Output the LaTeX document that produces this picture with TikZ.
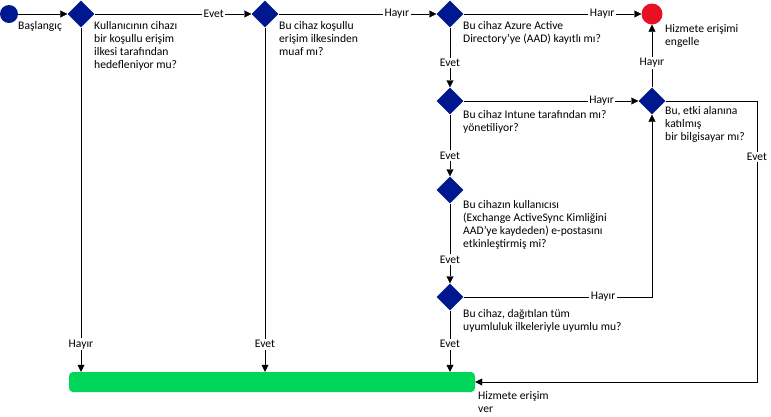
\documentclass[tikz,border=0pt]{standalone}
\usepackage{fontspec}
\setmainfont{Carlito}
\usetikzlibrary{shapes.geometric,arrows.meta}
\definecolor{decblue}{RGB}{0,24,143}
\definecolor{stopred}{RGB}{232,17,35}
\definecolor{grantgreen}{RGB}{0,214,90}
\tikzset{
  decision/.style={diamond,fill=decblue,minimum width=27pt,minimum height=27pt,inner sep=0pt},
  question/.style={anchor=north west,align=left,inner sep=0pt},
  answer/.style={fill=white,inner sep=1.5pt},
  endpoint/.style={circle,inner sep=0pt},
}
\begin{document}
\begin{tikzpicture}[x=1pt,y=-1pt,font=\fontsize{11.6}{13.2}\selectfont,>={Triangle[length=7pt,width=7pt]}]
      \useasboundingbox (0,0) rectangle (771,416);
      \node[endpoint,fill=decblue,minimum size=18pt] (start) at (9,14) {};
      \node[question] (startlabel) at (18,21) {Başlangıç};
      \node[decision] (d1) at (81,14) {};
      \node[decision] (d2) at (265,14) {};
      \node[decision] (d3) at (450,14) {};
      \node[decision] (d4) at (450,101) {};
      \node[decision] (d5) at (450,190) {};
      \node[decision] (d6) at (450,297) {};
      \node[decision] (dom) at (652,101) {};
      \node[endpoint,fill=stopred,minimum size=21pt] (block) at (652,14) {};
      \node[fill=grantgreen,rounded corners=4pt,minimum width=406pt,minimum height=20pt,inner sep=0pt] (grant) at (272,382) {};
      \coordinate (turn) at (757,382);
      \node[question] (q1) at (94,21) {Kullanıcının cihazı\\bir koşullu erişim\\ilkesi tarafından\\hedefleniyor mu?};
      \node[question] (q2) at (279,21) {Bu cihaz koşullu\\erişim ilkesinden\\muaf mı?};
      \node[question] (q3) at (463,21) {Bu cihaz Azure Active\\Directory’ye (AAD) kayıtlı mı?};
      \node[question] (q4) at (463,110) {Bu cihaz Intune tarafından mı?\\yönetiliyor?};
      \node[question] (q5) at (463,200) {Bu cihazın kullanıcısı\\(Exchange ActiveSync Kimliğini\\AAD’ye kaydeden) e-postasını\\etkinleştirmiş mi?};
      \node[question] (q6) at (463,309) {Bu cihaz, dağıtılan tüm\\uyumluluk ilkeleriyle uyumlu mu?};
      \node[question] (qdom) at (665,106) {Bu, etki alanına\\katılmış\\bir bilgisayar mı?};
      \node[question] (blocklabel) at (665,24) {Hizmete erişimi\\engelle};
      \node[question] (grantlabel) at (478,391) {Hizmete erişim\\ver};
      \begin{scope}[->]
        \draw (start) -- (d1);
        \draw (d1) -- node[answer,pos=0.76] {Evet} (d2);
        \draw (d2) -- node[answer,pos=0.75] {Hayır} (d3);
        \draw (d3) -- node[answer,pos=0.78] {Hayır} (block);
        \draw (d3) -- node[answer,pos=0.59] {Evet} (d4);
        \draw (d4) -- node[answer,pos=0.79] {Hayır} (dom);
        \draw (dom) -- node[answer,pos=0.39] {Hayır} (block);
        \draw (d4) -- node[answer,pos=0.66] {Evet} (d5);
        \draw (d5) -- node[answer,pos=0.70] {Evet} (d6);
        \draw (d6) -| node[answer,pos=0.37] {Hayır} (dom);
        \draw (dom) -| node[answer,pos=0.6] {Evet} (turn) -- (grant);
        \draw (d1) -- node[answer,pos=0.92] {Hayır} (d1 |- grant.north);
        \draw (d2) -- node[answer,pos=0.92] {Evet} (d2 |- grant.north);
        \draw (d6) -- node[answer,pos=0.55] {Evet} (d6 |- grant.north);
      \end{scope}
    \end{tikzpicture}
\end{document}
